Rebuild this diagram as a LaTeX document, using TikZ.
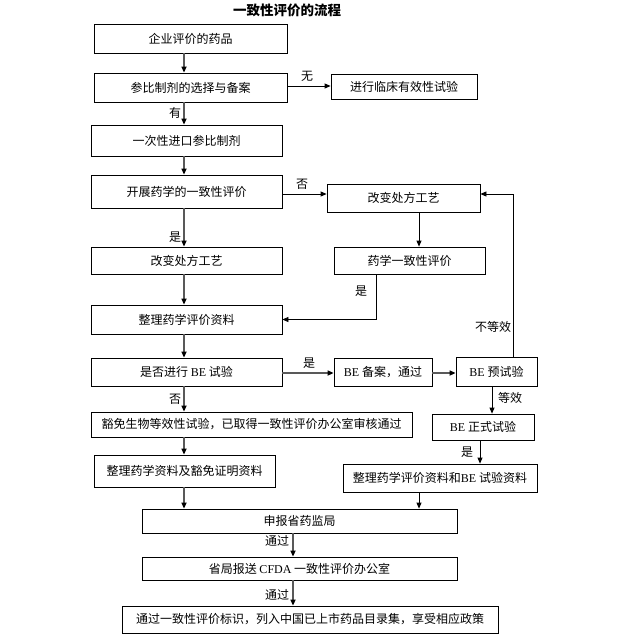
\documentclass[tikz,border=0pt]{standalone}
\usepackage{fontspec}
\setmainfont{Liberation Serif}
\newfontfamily\cjk{Noto Sans CJK SC}
\newfontfamily\latf{Liberation Serif}
\usetikzlibrary{arrows.meta}
\newcommand{\lt}[1]{{\latf #1}}
\begin{document}
\begin{tikzpicture}[x=1pt,y=-1pt,
  box/.style={draw=black,line width=0.8pt,inner sep=0pt,font=\cjk\fontsize{12}{12}\selectfont},
  lbl/.style={font=\cjk\fontsize{12}{12}\selectfont,inner sep=0pt},
  tip/.style={-{Triangle[length=6pt,width=5pt,color=black]}},
  garr/.style={tip,draw=black!65,line width=1.5pt},
  barr/.style={tip,draw=black,line width=0.8pt}]
\useasboundingbox (0,0) rectangle (623,637);
\node[font=\cjk\bfseries\fontsize{13.5}{14}\selectfont,inner sep=0pt] (title) at (287,10) {一致性评价的流程};
\node[box,minimum width=193pt,minimum height=29pt] (b1) at (190.5,38.5) {企业评价的药品};
\node[box,minimum width=193pt,minimum height=29pt] (b2) at (190.5,87.5) {参比制剂的选择与备案};
\node[box,minimum width=146pt,minimum height=25pt] (b3) at (404,86.5) {进行临床有效性试验};
\node[box,minimum width=191pt,minimum height=31pt] (b4) at (186.5,140.5) {一次性进口参比制剂};
\node[box,minimum width=191pt,minimum height=33pt] (b5) at (186.5,191.5) {开展药学的一致性评价};
\node[box,minimum width=153pt,minimum height=28pt] (b6) at (403.5,198) {改变处方工艺};
\node[box,minimum width=191pt,minimum height=27pt] (b7) at (186.5,260.5) {改变处方工艺};
\node[box,minimum width=151pt,minimum height=27pt] (b8) at (409.5,260.5) {药学一致性评价};
\node[box,minimum width=191pt,minimum height=29pt] (b9) at (186.5,319.5) {整理药学评价资料};
\node[box,minimum width=191pt,minimum height=28pt] (b10) at (186.5,372) {是否进行 \lt{BE} 试验};
\node[box,minimum width=98pt,minimum height=28pt] (b11) at (383,372) {\lt{BE} 备案，通过};
\node[box,minimum width=81pt,minimum height=29pt] (b12) at (496.5,371.5) {\lt{BE} 预试验};
\node[box,minimum width=321pt,minimum height=25pt] (b13) at (251.5,424.5) {豁免生物等效性试验，已取得一致性评价办公室审核通过};
\node[box,minimum width=102pt,minimum height=26pt] (b14) at (483,427) {\lt{BE} 正式试验};
\node[box,minimum width=181pt,minimum height=32pt] (b15) at (184.5,471) {整理药学资料及豁免证明资料};
\node[box,minimum width=194pt,minimum height=28pt] (b16) at (440,478) {整理药学评价资料和\lt{BE} 试验资料};
\node[box,minimum width=315pt,minimum height=24pt] (b17) at (299.5,521) {申报省药监局};
\node[box,minimum width=315pt,minimum height=23pt] (b18) at (299.5,568.5) {省局报送 \lt{CFDA} 一致性评价办公室};
\node[box,minimum width=376pt,minimum height=27pt] (b19) at (310,619.5) {通过一致性评价标识，列入中国已上市药品目录集，享受相应政策};
% column coordinates
\coordinate (cL) at (184,0);
\coordinate (cM) at (293,0);
\coordinate (cR1) at (419,0);
\coordinate (cR2) at (492,0);
\coordinate (cR3) at (480,0);
\coordinate (cR4) at (376,0);
\coordinate (cFB) at (513,0);
\coordinate (r86) at (0,86);
\coordinate (r194) at (0,194);
\coordinate (r373) at (0,373);
% arrows
\draw[garr] (b1.south -| cL) -- (b2.north -| cL);
\draw[garr] (b2.south -| cL) -- (b4.north -| cL);
\draw[barr] (b2.east |- r86) -- (b3.west |- r86);
\draw[garr] (b4.south -| cL) -- (b5.north -| cL);
\draw[barr] (b5.east |- r194) -- (b6.west |- r194);
\draw[garr] (b5.south -| cL) -- (b7.north -| cL);
\draw[barr] (b6.south -| cR1) -- (b8.north -| cR1);
\draw[garr] (b7.south -| cL) -- (b9.north -| cL);
\draw[barr] (b8.south -| cR4) |- (b9.east);
\draw[garr] (b9.south -| cL) -- (b10.north -| cL);
\draw[garr] (b10.east |- r373) -- (b11.west |- r373);
\draw[garr] (b11.east |- r373) -- (b12.west |- r373);
\draw[barr] (b12.north -| cFB) |- (b6.east |- r194);
\draw[garr] (b10.south -| cL) -- (b13.north -| cL);
\draw[barr] (b12.south -| cR2) -- (b14.north -| cR2);
\draw[garr] (b13.south -| cL) -- (b15.north -| cL);
\draw[barr] (b14.south -| cR3) -- (b16.north -| cR3);
\draw[garr] (b15.south -| cL) -- (b17.north -| cL);
\draw[barr] (b16.south -| cR1) -- (b17.north -| cR1);
\draw[garr] (b17.south -| cM) -- (b18.north -| cM);
\draw[garr] (b18.south -| cM) -- (b19.north -| cM);
% labels
\node[lbl] (l1) at (307,76) {无};
\node[lbl] (l2) at (175,113) {有};
\node[lbl] (l3) at (302,184) {否};
\node[lbl] (l4) at (175,237) {是};
\node[lbl] (l5) at (361,291) {是};
\node[lbl] (l6) at (493,327) {不等效};
\node[lbl] (l7) at (309,363) {是};
\node[lbl] (l8) at (175,399) {否};
\node[lbl] (l9) at (510,398) {等效};
\node[lbl] (l10) at (467,452) {是};
\node[lbl] (l11) at (277,541) {通过};
\node[lbl] (l12) at (277,595) {通过};
\end{tikzpicture}
\end{document}
